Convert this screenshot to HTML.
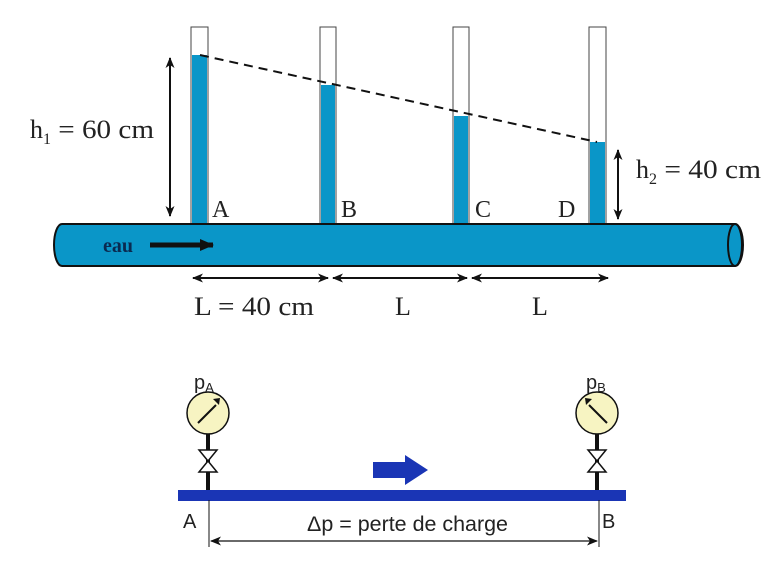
<!DOCTYPE html>
<html><head><style>body{margin:0;background:#fff}svg{display:block}</style></head><body>
<svg width="772" height="567" viewBox="0 0 772 567" xmlns="http://www.w3.org/2000/svg">
<defs>
<marker id="ah" markerWidth="11" markerHeight="9" refX="10" refY="4.5" orient="auto-start-reverse" markerUnits="userSpaceOnUse"><path d="M0,0 L11,4.5 L0,9 L3,4.5 Z" fill="#111"/></marker>
<marker id="ah2" markerWidth="14" markerHeight="12" refX="13" refY="6" orient="auto" markerUnits="userSpaceOnUse"><path d="M0,0 L14,6 L0,12 Z" fill="#111"/></marker>
</defs>
<g font-family="Liberation Serif, serif" font-size="24" fill="#222">
<g stroke="#444" stroke-width="1">
<rect x="191" y="27" width="17" height="198" fill="#fff"/>
<rect x="320" y="27" width="16" height="198" fill="#fff"/>
<rect x="453" y="27" width="16" height="198" fill="#fff"/>
<rect x="589" y="27" width="17" height="198" fill="#fff"/>
</g>
<rect x="192" y="55" width="15" height="170" fill="#0a96c8"/>
<rect x="321" y="85" width="14" height="140" fill="#0a96c8"/>
<rect x="454" y="116" width="14" height="109" fill="#0a96c8"/>
<rect x="590" y="142" width="15" height="83" fill="#0a96c8"/>
<line x1="200" y1="55" x2="597" y2="142" stroke="#111" stroke-width="2" stroke-dasharray="9,6"/>
<path d="M62,224 H735 A8,21 0 0 1 735,266 H62 A8,21 0 0 1 62,224 Z" fill="#0a96c8" stroke="#111" stroke-width="2"/>
<ellipse cx="735" cy="245" rx="7" ry="21" fill="#0a96c8" stroke="#111" stroke-width="2"/>
<text x="103" y="252" font-weight="bold" font-size="20" fill="#0a2a50">eau</text>
<line x1="150" y1="245" x2="213" y2="245" stroke="#111" stroke-width="5" marker-end="url(#ah2)"/>
<text x="212" y="217">A</text><text x="341" y="217">B</text><text x="475" y="217">C</text><text x="558" y="217">D</text>
<line x1="170" y1="58" x2="170" y2="216" stroke="#111" stroke-width="2" marker-start="url(#ah)" marker-end="url(#ah)"/>
<text x="30" y="138" font-size="26">h<tspan font-size="16" dy="6">1</tspan><tspan dy="-6" textLength="103" lengthAdjust="spacingAndGlyphs"> = 60 cm</tspan></text>
<line x1="618" y1="150" x2="618" y2="219" stroke="#111" stroke-width="2" marker-start="url(#ah)" marker-end="url(#ah)"/>
<text x="636" y="178" font-size="26">h<tspan font-size="16" dy="6">2</tspan><tspan dy="-6" textLength="104" lengthAdjust="spacingAndGlyphs"> = 40 cm</tspan></text>
<g stroke="#111" stroke-width="2">
<line x1="193" y1="278" x2="328" y2="278" marker-start="url(#ah)" marker-end="url(#ah)"/>
<line x1="333" y1="278" x2="467" y2="278" marker-start="url(#ah)" marker-end="url(#ah)"/>
<line x1="472" y1="278" x2="608" y2="278" marker-start="url(#ah)" marker-end="url(#ah)"/>
</g>
<text x="194" y="315" font-size="26" textLength="120" lengthAdjust="spacingAndGlyphs">L = 40 cm</text><text x="395" y="315" font-size="26">L</text><text x="532" y="315" font-size="26">L</text>
</g>
<g font-family="Liberation Sans, sans-serif" fill="#222">
<rect x="178" y="490" width="448" height="11" fill="#1a35b5"/>
<g stroke="#111">
<line x1="208" y1="434" x2="208" y2="490" stroke-width="4"/>
<line x1="597" y1="434" x2="597" y2="490" stroke-width="4"/>
<path d="M199,450 L217,450 L199,472 L217,472 Z" fill="#fff" stroke-width="1.5"/>
<path d="M588,450 L606,450 L588,472 L606,472 Z" fill="#fff" stroke-width="1.5"/>
<circle cx="208" cy="413" r="21" fill="#f7f4c2" stroke-width="1.5"/>
<circle cx="597" cy="413" r="21" fill="#f7f4c2" stroke-width="1.5"/>
<line x1="198" y1="423" x2="216" y2="405" stroke-width="2"/>
<line x1="607" y1="423" x2="589" y2="405" stroke-width="2"/>
<line x1="209" y1="500" x2="209" y2="547" stroke-width="1"/>
<line x1="599" y1="500" x2="599" y2="547" stroke-width="1"/>
<line x1="211" y1="541" x2="597" y2="541" stroke-width="1.2" marker-start="url(#ah)" marker-end="url(#ah)"/>
</g>
<path d="M213,399 L220,398 L219,405 Z" fill="#111"/>
<path d="M585,398 L592,399 L586,405 Z" fill="#111"/>
<path d="M373,462 H405 V455 L428,470 L405,485 V478 H373 Z" fill="#1a35b5"/>
<text x="194" y="389" font-size="20">p<tspan font-size="13" dy="3">A</tspan></text>
<text x="586" y="389" font-size="20">p<tspan font-size="13" dy="3">B</tspan></text>
<text x="183" y="528" font-size="20">A</text>
<text x="602" y="528" font-size="20">B</text>
<text x="307" y="531" font-size="21" textLength="201" lengthAdjust="spacingAndGlyphs">Δp = perte de charge</text>
</g>
</svg>
</body></html>
